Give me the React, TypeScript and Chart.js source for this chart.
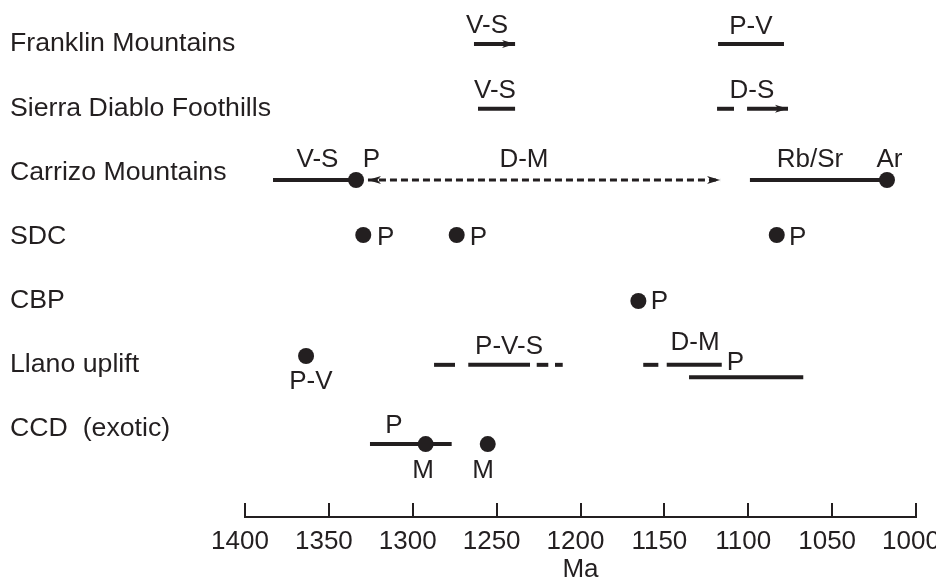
import React, { useEffect, useRef } from "react";
import { Chart, registerables } from "chart.js";

Chart.register(...registerables);

const INK = "#231f20";
const FONT = "'Liberation Sans', Arial, Helvetica, sans-serif";

// Rows (top to bottom) and their position on the y value scale
const ROW_NAMES = [
  "Franklin Mountains",
  "Sierra Diablo Foothills",
  "Carrizo Mountains",
  "SDC",
  "CBP",
  "Llano uplift",
  "CCD  (exotic)",
];
const ROW_VALUES = [7, 6, 5, 4, 3, 2, 1];

// Age axis (Ma)
const X_TICKS = [1400, 1350, 1300, 1250, 1200, 1150, 1100, 1050, 1000];

// Solid age ranges: [row position, from Ma, to Ma]
const SOLID_RANGES: [number, number, number][] = [
  [7.0, 1118.0, 1078.7], // Franklin P-V
  [5.99, 1261.1, 1239.0], // Sierra Diablo V-S
  [5.99, 1118.6, 1108.5], // Sierra Diablo D-S (first piece)
  [4.88, 1383.3, 1333.8], // Carrizo V-S
  [4.88, 1099.0, 1017.3], // Carrizo Rb/Sr
  [2.0, 1287.3, 1274.8], // Llano P-V-S pieces
  [2.0, 1266.9, 1230.1],
  [2.0, 1226.1, 1219.2],
  [2.0, 1215.2, 1210.6],
  [2.0, 1162.6, 1153.6], // Llano D-M pieces
  [2.0, 1148.6, 1115.8],
  [1.806, 1135.3, 1067.2], // Llano P
  [0.765, 1325.5, 1276.8], // CCD P
];

// Solid ranges ending in an arrow (arrow at the "to" end)
const ARROW_RANGES: [number, number, number][] = [
  [7.0, 1263.5, 1239.0], // Franklin V-S
  [5.99, 1100.7, 1076.3], // Sierra Diablo D-S
];

// Dashed ranges with arrows at both ends
const DASHED_ARROW_RANGES: [number, number, number][] = [
  [4.88, 1326.7, 1116.8], // Carrizo D-M
];

// Point ages: [row position, Ma]
const POINT_AGES: [number, number][] = [
  [4.88, 1333.8],
  [4.88, 1017.3],
  [4.023, 1329.5],
  [4.023, 1273.8],
  [4.023, 1083.0],
  [2.995, 1165.5],
  [2.138, 1363.6],
  [0.765, 1292.3],
  [0.765, 1255.3],
];

// Text annotations: [text, Ma, row position]
const NOTES: [string, number, number][] = [
  ["V-S", 1255.7, 7.28],
  ["P-V", 1098.4, 7.27],
  ["V-S", 1251.0, 6.27],
  ["D-S", 1097.8, 6.27],
  ["V-S", 1356.8, 5.19],
  ["P", 1324.6, 5.19],
  ["D-M", 1233.7, 5.19],
  ["Rb/Sr", 1063.2, 5.19],
  ["Ar", 1015.8, 5.19],
  ["P", 1316.2, 3.98],
  ["P", 1260.8, 3.98],
  ["P", 1070.6, 3.98],
  ["P", 1152.9, 2.98],
  ["P-V", 1360.7, 1.74],
  ["P-V-S", 1242.6, 2.28],
  ["D-M", 1131.7, 2.35],
  ["P", 1107.7, 2.03],
  ["P", 1311.2, 1.05],
  ["M", 1293.9, 0.35],
  ["M", 1258.1, 0.35],
];

function drawHead(ctx: CanvasRenderingContext2D, tx: number, ty: number, ux: number, uy: number) {
  const len = 13;
  const half = 4;
  const notch = 3.5;
  const bx = tx - ux * len;
  const by = ty - uy * len;
  const px = -uy;
  const py = ux;
  ctx.beginPath();
  ctx.moveTo(tx, ty);
  ctx.lineTo(bx + px * half, by + py * half);
  ctx.lineTo(tx - ux * (len - notch), ty - uy * (len - notch));
  ctx.lineTo(bx - px * half, by - py * half);
  ctx.closePath();
  ctx.fill();
}

const annotPlugin = {
  id: "annot",
  afterDatasetsDraw(chart: any) {
    const ctx: CanvasRenderingContext2D = chart.ctx;
    ctx.save();
    ctx.fillStyle = INK;
    chart.data.datasets.forEach((ds: any, i: number) => {
      if (!ds.arrowEnd && !ds.arrowStart) return;
      const pts = chart.getDatasetMeta(i).data;
      const a = pts[0];
      const b = pts[pts.length - 1];
      const dx = b.x - a.x;
      const dy = b.y - a.y;
      const d = Math.hypot(dx, dy) || 1;
      const ux = dx / d;
      const uy = dy / d;
      if (ds.arrowEnd) drawHead(ctx, b.x, b.y, ux, uy);
      if (ds.arrowStart) drawHead(ctx, a.x, a.y, -ux, -uy);
    });
    ctx.restore();
  },
  afterDraw(chart: any) {
    const ctx: CanvasRenderingContext2D = chart.ctx;
    const xs = chart.scales.x;
    const ys = chart.scales.y;
    ctx.save();
    ctx.fillStyle = INK;
    ctx.font = `26px ${FONT}`;
    ctx.textAlign = "center";
    ctx.textBaseline = "middle";
    NOTES.forEach(([t, ma, r]) => {
      ctx.fillText(t, xs.getPixelForValue(ma), ys.getPixelForValue(r));
    });
    ctx.restore();
  },
};

export default function App() {
  const ref = useRef<HTMLCanvasElement>(null);

  useEffect(() => {
    const canvas = ref.current;
    if (!canvas) return;

    const datasets: any[] = [];
    datasets.push({
      data: POINT_AGES.map(([y, x]) => ({ x, y })),
      showLine: false,
      pointRadius: 8,
      pointHoverRadius: 8,
      pointBackgroundColor: INK,
      pointBorderWidth: 0,
      order: 0,
    });
    SOLID_RANGES.forEach(([y, a, b]) => {
      datasets.push({
        data: [{ x: a, y }, { x: b, y }],
        borderColor: INK,
        borderWidth: 4,
        borderCapStyle: "butt",
        pointRadius: 0,
        fill: false,
        order: 1,
      });
    });
    ARROW_RANGES.forEach(([y, a, b]) => {
      datasets.push({
        data: [{ x: a, y }, { x: b, y }],
        borderColor: INK,
        borderWidth: 4,
        borderCapStyle: "butt",
        pointRadius: 0,
        fill: false,
        order: 1,
        arrowEnd: true,
      });
    });
    DASHED_ARROW_RANGES.forEach(([y, a, b]) => {
      datasets.push({
        data: [{ x: a, y }, { x: b, y }],
        borderColor: INK,
        borderWidth: 3,
        borderDash: [7, 4],
        borderCapStyle: "butt",
        pointRadius: 0,
        fill: false,
        order: 1,
        arrowEnd: true,
        arrowStart: true,
      });
    });

    const chart = new Chart(canvas, {
      type: "line",
      data: { datasets },
      options: {
        responsive: false,
        animation: false,
        events: [],
        layout: { autoPadding: false, padding: { left: 10, right: 20, top: 0, bottom: 0 } },
        plugins: { legend: { display: false }, tooltip: { enabled: false } },
        scales: {
          x: {
            type: "linear",
            position: "bottom",
            min: 1000,
            max: 1400,
            reverse: true,
            afterBuildTicks: (axis: any) => {
              axis.ticks = X_TICKS.map((v) => ({ value: v }));
            },
            afterFit: (axis: any) => {
              axis.height = 64;
              axis.paddingLeft = 0;
              axis.paddingRight = 0;
            },
            ticks: {
              autoSkip: false,
              maxRotation: 0,
              padding: 23,
              labelOffset: -5,
              color: INK,
              font: { size: 26, family: FONT },
              callback: (v: any) => String(v),
            },
            grid: {
              drawOnChartArea: false,
              drawTicks: true,
              tickLength: -14,
              lineWidth: 2,
              color: INK,
            },
            border: { display: true, width: 2, color: INK },
            title: {
              display: true,
              text: "Ma",
              color: INK,
              padding: 0,
              font: { size: 26, family: FONT, lineHeight: 0.85 },
            },
          },
          y: {
            type: "linear",
            position: "left",
            min: -0.371,
            max: 7.685,
            afterBuildTicks: (axis: any) => {
              axis.ticks = ROW_VALUES.map((v) => ({ value: v }));
            },
            afterFit: (axis: any) => {
              axis.width = 235;
              axis.paddingTop = 0;
              axis.paddingBottom = 0;
            },
            ticks: {
              autoSkip: false,
              mirror: true,
              padding: -235,
              color: INK,
              font: { size: 26.7, family: FONT },
              callback: (v: any) => ROW_NAMES[ROW_VALUES.indexOf(Number(v))] ?? "",
            },
            grid: { display: false, drawTicks: false },
            border: { display: false },
          },
        },
      } as any,
      plugins: [annotPlugin],
    });

    return () => chart.destroy();
  }, []);

  return (
    <div style={{ position: "absolute", left: 0, top: 0, width: 936, height: 581, background: "#fff" }}>
      <canvas ref={ref} width={936} height={581} style={{ display: "block" }} />
    </div>
  );
}
